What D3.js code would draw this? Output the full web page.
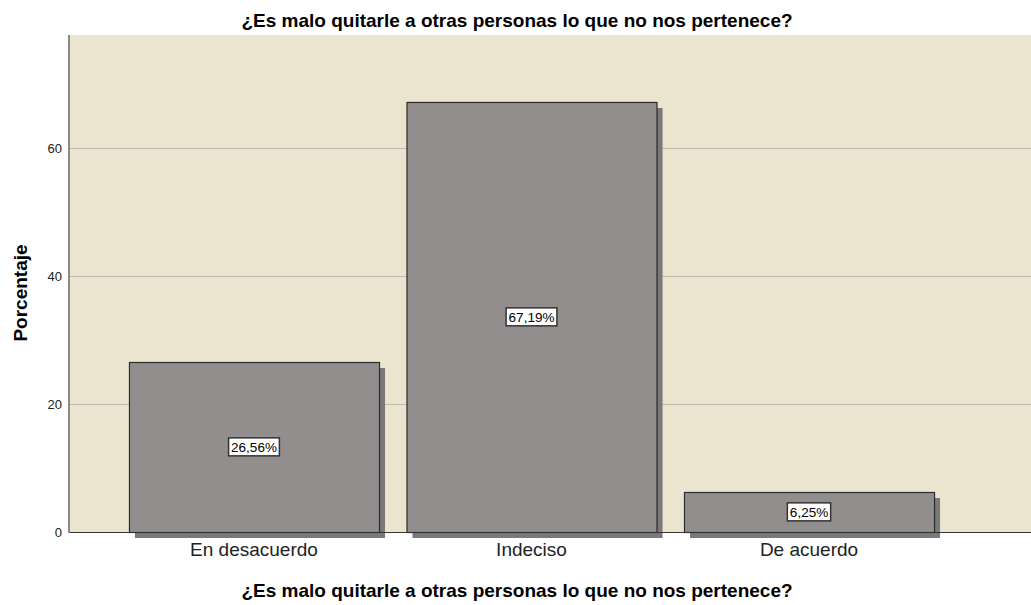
<!DOCTYPE html>
<html><head><meta charset="utf-8">
<script src="https://cdn.jsdelivr.net/npm/d3@7"></script>
<style>body{margin:0;background:#fff}svg{display:block;font-family:"Liberation Sans",Arial,sans-serif}</style>
</head><body>
<svg id="c" width="1031" height="605"></svg>
<script>
const categories = ["En desacuerdo", "Indeciso", "De acuerdo"];
const values = [26.56, 67.19, 6.25];
const labels = ["26,56%", "67,19%", "6,25%"];
const yTicks = [0, 20, 40, 60];
const title = "¿Es malo quitarle a otras personas lo que no nos pertenece?";

const svg = d3.select("#c");
const L = 69, R = 1031, T = 35, B = 532;
const y = d3.scaleLinear().domain([0, 77.65]).range([B, T]);
const x = d3.scaleBand().domain(categories).range([101.5, 961.5]).paddingInner(0.099).paddingOuter(0.099);

svg.append("rect").attr("x", L).attr("y", T).attr("width", R - L).attr("height", B - T).attr("fill", "#ebe4cf");

svg.append("g").selectAll("line").data(yTicks.filter(d => d > 0)).join("line")
  .attr("x1", L).attr("x2", R).attr("y1", d => y(d) + 0.5).attr("y2", d => y(d) + 0.5)
  .attr("stroke", "#bdbab2").attr("stroke-width", 1);

// shadows
svg.append("g").selectAll("rect").data(values).join("rect")
  .attr("x", (d, i) => x(categories[i]) + 6).attr("y", d => y(d) + 6)
  .attr("width", x.bandwidth()).attr("height", d => B - y(d))
  .attr("fill", "#7a7878");

// bars
svg.append("g").selectAll("rect").data(values).join("rect")
  .attr("x", (d, i) => x(categories[i]) + 0.5).attr("y", d => y(d) + 0.5)
  .attr("width", x.bandwidth()).attr("height", d => B - y(d))
  .attr("fill", "#928e8d").attr("stroke", "#2b2b2b").attr("stroke-width", 1.2);

// axes lines
svg.append("line").attr("x1", L).attr("x2", R).attr("y1", B + 0.5).attr("y2", B + 0.5).attr("stroke", "#333").attr("stroke-width", 1);
svg.append("line").attr("x1", L).attr("x2", L).attr("y1", T).attr("y2", B + 1).attr("stroke", "#8a8a8a").attr("stroke-width", 2);

// y tick labels
const yAxis = d3.axisLeft(y).tickValues(yTicks).tickSize(0).tickPadding(6).tickFormat(d3.format("d"));
const ya = svg.append("g").attr("transform", `translate(${L - 1},0)`).call(yAxis);
ya.select(".domain").remove();
ya.selectAll("text").attr("font-size", 13).attr("fill", "#222").style("font-family", "'Liberation Sans',Arial,sans-serif");

// x labels
const xAxis = d3.axisBottom(x).tickSize(0).tickPadding(11);
const xa = svg.append("g").attr("transform", `translate(0,${B})`).call(xAxis);
xa.select(".domain").remove();
xa.selectAll("text").attr("font-size", 19).attr("fill", "#222").style("font-family", "'Liberation Sans',Arial,sans-serif");

// data labels
const lg = svg.append("g").selectAll("g").data(values).join("g")
  .attr("transform", (d, i) => `translate(${x(categories[i]) + x.bandwidth() / 2},${y(d / 2)})`);
lg.append("text").attr("text-anchor", "middle").attr("dy", "0.36em").attr("font-size", 13.5).attr("fill", "#000")
  .text((d, i) => labels[i]);
lg.each(function () {
  const g = d3.select(this);
  const bb = g.select("text").node().getBBox();
  g.insert("rect", "text").attr("x", bb.x - 2.5).attr("y", bb.y - 2).attr("width", bb.width + 5).attr("height", bb.height + 3)
    .attr("fill", "#fff").attr("stroke", "#333").attr("stroke-width", 1.5);
});

svg.append("text").attr("x", 517).attr("y", 27).attr("text-anchor", "middle").attr("font-size", 19).attr("font-weight", "bold").text(title);
svg.append("text").attr("x", 517).attr("y", 597).attr("text-anchor", "middle").attr("font-size", 19).attr("font-weight", "bold").text(title);
svg.append("text").attr("transform", "translate(27,293) rotate(-90)").attr("text-anchor", "middle").attr("font-size", 19).attr("font-weight", "bold").text("Porcentaje");
</script>
</body></html>
